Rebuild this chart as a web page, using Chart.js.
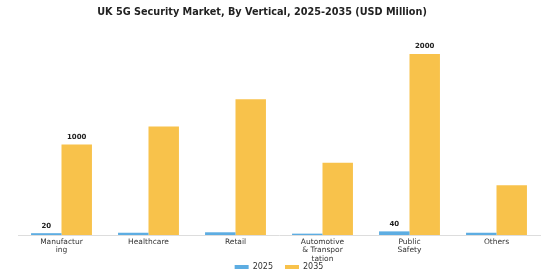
<!DOCTYPE html>
<html lang="en">
<head>
  <meta charset="UTF-8" />
  <title>UK 5G Security Market</title>
  <script src="https://cdn.jsdelivr.net/npm/chart.js"></script>
  <style>
    html, body { margin: 0; padding: 0; background: #fff; }
    #wrap { width: 560px; height: 280px; position: relative; }
  </style>
</head>
<body>
  <div id="wrap"><canvas id="marketChart"></canvas></div>

  <script>
    const chartTitle = "UK 5G Security Market, By Vertical, 2025-2035 (USD Million)";
    const verticals = [
      ["Manufactur", "ing"],
      "Healthcare",
      "Retail",
      ["Automotive", "& Transpor", "tation"],
      ["Public", "Safety"],
      "Others"
    ];
    const values2025 = [20, 25, 30, 15, 40, 25];
    const values2035 = [1000, 1200, 1500, 800, 2000, 550];
    const labelledIdx = [0, 4]; // only these categories get value labels

    const FONT = "'DejaVu Sans', sans-serif";

    // title sits a bit left of centre in the original, so draw it by hand
    const titlePlugin = {
      id: "titlePlugin",
      beforeDraw(chart) {
        const ctx = chart.ctx;
        ctx.save();
        ctx.font = "bold 9.7px " + FONT;
        ctx.fillStyle = "#222";
        ctx.textAlign = "center";
        ctx.textBaseline = "middle";
        ctx.fillText(chartTitle, 262, 12);
        ctx.restore();
      }
    };

    const valueLabels = {
      id: "valueLabels",
      afterDatasetsDraw(chart) {
        const ctx = chart.ctx;
        ctx.save();
        ctx.font = "bold 7px " + FONT;
        ctx.fillStyle = "#222";
        ctx.textAlign = "center";
        ctx.textBaseline = "bottom";
        chart.data.datasets.forEach((ds, di) => {
          const meta = chart.getDatasetMeta(di);
          labelledIdx.forEach(i => {
            const bar = meta.data[i];
            ctx.fillText(ds.data[i], bar.x, bar.y - 4);
          });
        });
        ctx.restore();
      }
    };

    new Chart(document.getElementById("marketChart"), {
      type: "bar",
      data: {
        labels: verticals,
        datasets: [
          { label: "2025", data: values2025, backgroundColor: "#5DADE2" },
          { label: "2035", data: values2035, backgroundColor: "#F8C24B" }
        ]
      },
      options: {
        responsive: true,
        maintainAspectRatio: false,
        animation: false,
        layout: { padding: { left: 18, right: 20, top: 36, bottom: -1 } },
        datasets: { bar: { barPercentage: 1, categoryPercentage: 0.7 } },
        plugins: {
          title: { display: false },
          legend: {
            position: "bottom",
            labels: {
              color: "#333",
              font: { family: FONT, size: 8 },
              boxWidth: 14,
              boxHeight: 4,
              padding: 12
            }
          },
          tooltip: { enabled: false }
        },
        scales: {
          x: {
            grid: { display: false, drawTicks: false },
            border: { display: true, color: "#ddd" },
            ticks: {
              color: "#333",
              font: { family: FONT, size: 7.5, lineHeight: 1.1 },
              padding: 3,
              maxRotation: 0,
              autoSkip: false
            },
            afterFit(scale) {
              // labels run into the legend like the original, so don't clip them
              scale.height = 16;
              scale._computeLabelArea = () => undefined;
            }
          },
          y: {
            display: false,
            min: 0,
            max: 2200
          }
        }
      },
      plugins: [titlePlugin, valueLabels]
    });
  </script>
</body>
</html>
